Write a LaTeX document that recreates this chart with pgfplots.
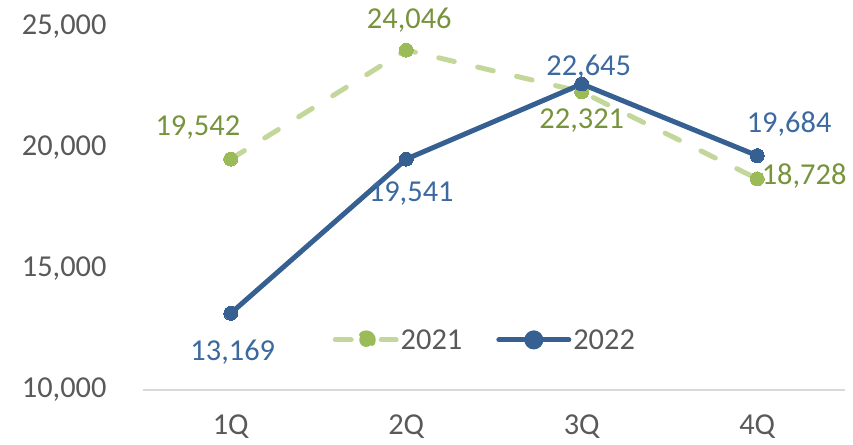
\documentclass[border=0pt]{standalone}
\usepackage{pgfplots}
\pgfplotsset{compat=1.18}
\usepackage{pgfplotstable}
\usepackage{fontspec}
\setmainfont{Carlito}
\definecolor{gline}{HTML}{C4D79B}
\definecolor{gmark}{HTML}{9BBB59}
\definecolor{glab}{HTML}{77933C}
\definecolor{bline}{HTML}{376092}
\definecolor{blab}{HTML}{3B69A0}
\definecolor{tgrey}{HTML}{595959}
\definecolor{axgrey}{HTML}{D9D9D9}
\pgfplotstableread{
x y dx dy
0 19542 -33 32
1 24046 3 30
2 22321 0 -29
3 18728 47 3
}\dataA
\pgfplotstableread{
x y dx dy
0 13169 2 -39
1 19541 5 -35
2 22645 7 17
3 19684 32 32
}\dataB
\begin{document}
\begin{tikzpicture}
\begin{axis}[
  scale only axis,
  width=702bp, height=363bp,
  xmin=-0.5, xmax=3.5,
  ymin=10000, ymax=25000,
  xtick={0,1,2,3},
  xticklabels={1Q,2Q,3Q,4Q},
  ytick={10000,15000,20000,25000},
  scaled y ticks=false,
  major tick length=0pt,
  axis x line*=bottom,
  axis y line*=left,
  x axis line style={-, draw=axgrey, line width=1.5bp},
  y axis line style={draw=none},
  font=\fontsize{30.5}{36}\selectfont,
  tick label style={text=tgrey},
  yticklabel style={xshift=-33bp},
  xticklabel style={yshift=-21bp},
  /pgf/number format/.cd, fixed, 1000 sep={,}, assume math mode=true,
  /pgfplots/.cd,
  clip=false,
  legend columns=2,
  legend style={draw=none, fill=none, at={(0.27,0.138)}, anchor=west,
    inner sep=0pt, text=tgrey,
    /tikz/every even column/.append style={column sep=32bp}},
  legend cell align=left,
]
\addplot[gline, line width=5bp, line cap=round, dash pattern=on 16bp off 24bp,
  mark=*, mark size=7bp, mark options={solid, fill=gmark, draw=gmark, line width=0pt},
  visualization depends on={\thisrow{dx}\as\dx},
  visualization depends on={\thisrow{dy}\as\dy},
  nodes near coords,
  every node near coord/.append style={anchor=center, xshift=\dx pt, yshift=\dy pt, text=glab, font=\fontsize{30.5}{36}\selectfont},
  legend image code/.code={
    \draw[gline, line width=5bp, line cap=round, solid] (2bp,0) -- (18bp,0);
    \draw[gline, line width=5bp, line cap=round, solid] (48bp,0) -- (63bp,0);
    \fill[gmark] (33bp,0) circle (7bp);
  },
] table[x=x, y=y] {\dataA};
\addlegendentry{2021}
\addplot[bline, line width=5bp, line join=round,
  mark=*, mark size=7bp, mark options={solid, fill=bline, draw=bline, line width=0pt},
  visualization depends on={\thisrow{dx}\as\dx},
  visualization depends on={\thisrow{dy}\as\dy},
  nodes near coords,
  every node near coord/.append style={anchor=center, xshift=\dx pt, yshift=\dy pt, text=blab, font=\fontsize{30.5}{36}\selectfont},
  legend image code/.code={
    \draw[bline, line width=5bp, line cap=round] (0bp,0) -- (70bp,0);
    \fill[bline] (35bp,0) circle (7bp);
  },
] table[x=x, y=y] {\dataB};
\addlegendentry{2022}
\end{axis}
\pgfresetboundingbox
\path[use as bounding box] (-143bp,-55bp) rectangle (710bp,390bp);
\end{tikzpicture}
\end{document}
